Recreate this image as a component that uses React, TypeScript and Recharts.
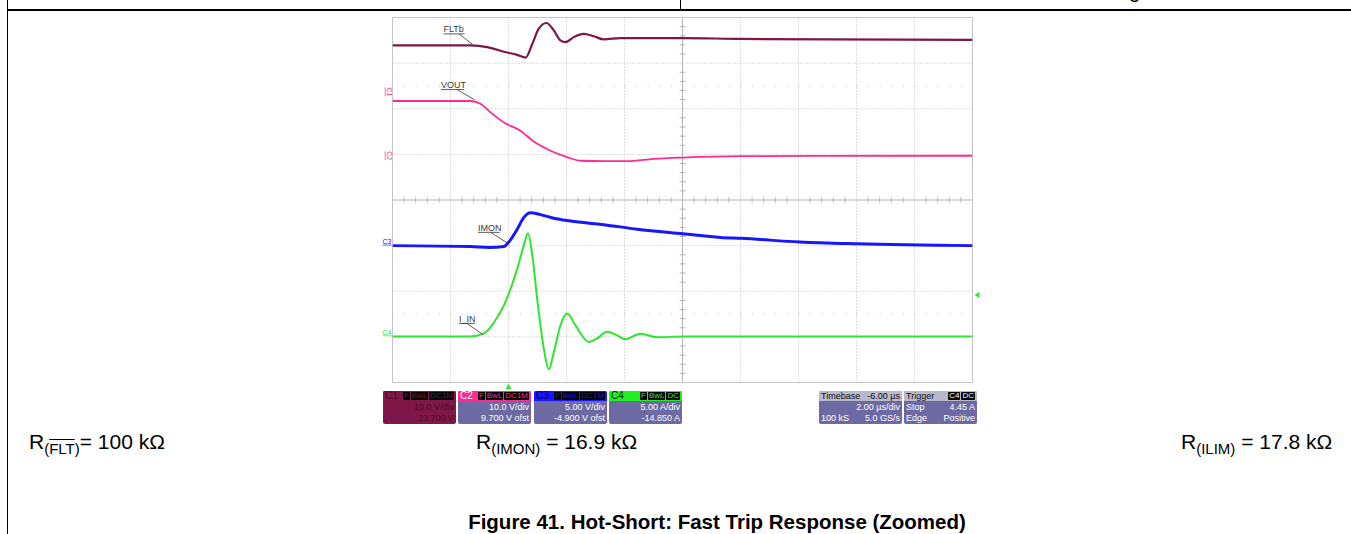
import React from "react";
import { LineChart, Line, XAxis, YAxis, ReferenceLine, ReferenceDot } from "recharts";

// time axis in µs, trigger at 0, 2 µs/div, 10 divs
const timeTicks = [-4, -2, 0, 2, 4, 6, 8, 10, 12, 14, 16];
// vertical screen divisions
const divTicks = [-4, -3, -2, -1, 0, 1, 2, 3, 4];

const channelNames = ["C1", "C2", "C3", "C4"];
const channelScale = [10, 10, 5, 5];
const channelOffset = [23.7, 9.7, -4.9, -14.85];
const channelScaleText = ["10.0 V/div", "10.0 V/div", "5.00 V/div", "5.00 A/div"];
const channelOffsetText = ["23.700 V", "9.700 V ofst", "-4.900 V ofst", "-14.850 A"];
const channelBadges = [["F", "BwL", "DC1M"], ["F", "BwL", "DC1M"], ["F", "BwL", "DC1M"], ["F", "BwL", "DC"]];
const triggerLevel = 4.45;

// FLTb (C1), volts
const fltbTime = [-4, -1.31, -0.73, -0.16, 0.3, 0.59, 0.82, 1.04, 1.31, 1.56, 1.79, 1.97, 2.25, 2.6, 2.94, 3.29, 3.86, 6.01, 8.03, 16];
const fltbVolts = [10.2, 10.2, 9.8, 8.8, 8.1, 7.5, 10.5, 13.8, 15.1, 13.5, 11.3, 10.9, 12.0, 12.7, 12.2, 11.5, 11.8, 11.8, 11.6, 11.4];

// VOUT (C2), volts
const voutTime = [-4, -1.31, -0.97, -0.62, -0.16, 0.41, 0.87, 1.45, 2.02, 2.48, 3.29, 4.09, 5.01, 6.01, 8.03, 16];
const voutVolts = [12.0, 12.0, 11.4, 9.5, 7.3, 5.5, 3.1, 1.1, -0.3, -1.1, -1.2, -1.2, -0.7, -0.4, -0.1, 0.0];

// IMON (C3), volts
const imonTime = [-4, -1.31, -0.66, -0.16, 0.01, 0.3, 0.53, 0.76, 1.1, 1.56, 2.14, 3.29, 4.44, 6.01, 7.31, 8.03, 10.05, 12.03, 16];
const imonVolts = [-0.1, -0.2, -0.3, -0.2, 0.3, 1.7, 3.0, 3.5, 3.3, 2.9, 2.6, 2.2, 1.7, 1.2, 0.8, 0.7, 0.3, 0.1, -0.1];

// I_IN (C4), amps
const iinTime = [-4, -1.31, -0.85, -0.51, -0.16, 0.07, 0.3, 0.53, 0.67, 0.82, 0.99, 1.22, 1.39, 1.56, 1.79, 2.02, 2.31, 2.77, 3.06, 3.4, 3.75, 4.03, 4.55, 5.13, 6.0, 16];
const iinAmps = [-0.1, -0.1, 0.2, 1.4, 3.3, 5.1, 7.3, 9.9, 11.2, 8.8, 4.0, -1.5, -3.7, -1.9, 1.1, 2.4, 1.1, -0.7, -0.3, 0.4, 0.0, -0.4, 0.2, -0.2, -0.1, -0.1];

const FONT = '"Liberation Sans", Arial, sans-serif';
const BOX_BODY = "#6d6aa3";

const toRows = (ts: number[], vs: number[]) => ts.map((t, i) => ({ t, v: vs[i] }));

// axis domain so that (v + offset) / scale lands on -4..4 divisions
const channelDomain = (i: number): [number, number] => [
  -4 * channelScale[i] - channelOffset[i],
  4 * channelScale[i] - channelOffset[i],
];

const traces = [
  { name: "FLTb", axis: "c0", data: toRows(fltbTime, fltbVolts), color: "#7e1747", width: 2.2 },
  { name: "VOUT", axis: "c1", data: toRows(voutTime, voutVolts), color: "#ff2a93", width: 1.8 },
  { name: "IMON", axis: "c2", data: toRows(imonTime, imonVolts), color: "#1616ff", width: 3 },
  { name: "I_IN", axis: "c3", data: toRows(iinTime, iinAmps), color: "#2ee62e", width: 2 },
];

// trace name tags: anchor on the trace, tag drawn up-left of it
const tags = [
  { text: "FLTb", axis: "c0", t: -1.24, v: 10.4, ux: -29, uw: 21, uy: -10.5, lx: -13.5 },
  { text: "VOUT", axis: "c1", t: -1.17, v: 12.25, ux: -33.5, uw: 23, uy: -10.3, lx: -17.4 },
  { text: "IMON", axis: "c2", t: -0.02, v: 0.15, ux: -30, uw: 22, uy: -11, lx: -17.3 },
  { text: "I_IN", axis: "c3", t: -0.87, v: 0.09, ux: -24.2, uw: 16, uy: -11.3, lx: -16.5 },
];

const markerColors = ["#ff2a93", "#ff2a93", "#1616ff", "#2ee62e"];

const minorTimes = timeTicks.slice(0, -1).flatMap((t) => [0.4, 0.8, 1.2, 1.6].map((s) => t + s));
const minorDivs = divTicks.slice(0, -1).flatMap((d) => [0.2, 0.4, 0.6, 0.8].map((s) => d + s));

function Scope() {
  return (
    <LineChart width={612} height={383} margin={{ top: 10.5, right: 11.5, bottom: 7.5, left: 20.5 }}>
      <XAxis type="number" dataKey="t" domain={[-4, 16]} allowDataOverflow hide />
      <YAxis yAxisId="div" type="number" domain={[-4, 4]} allowDataOverflow hide />
      {channelNames.map((c, i) => (
        <YAxis key={c} yAxisId={`c${i}`} type="number" domain={channelDomain(i)} allowDataOverflow hide />
      ))}

      {/* dotted grid */}
      {timeTicks.slice(1, -1).filter((t) => t !== 6).map((t) => (
        <ReferenceLine key={`gx${t}`} yAxisId="div" x={t} stroke="#bdbdbd" strokeDasharray="1 2" />
      ))}
      {divTicks.slice(1, -1).filter((d) => d !== 0).map((d) => (
        <ReferenceLine key={`gy${d}`} yAxisId="div" y={d} stroke="#bdbdbd" strokeDasharray="1 2" />
      ))}
      {[2.5, -2.5].map((d) => (
        <ReferenceLine key={`gs${d}`} yAxisId="div" y={d} stroke="#b8b8b8" strokeDasharray="1 10.6" />
      ))}
      {/* centre cross with ticks */}
      <ReferenceLine yAxisId="div" x={6} stroke="#b4b4b4" />
      <ReferenceLine yAxisId="div" y={0} stroke="#b4b4b4" />
      {minorTimes.map((t) => (
        <ReferenceLine key={`mx${t}`} yAxisId="div" stroke="#b4b4b4"
          segment={[{ x: t, y: -0.06 }, { x: t, y: 0.06 }]} />
      ))}
      {minorDivs.map((d) => (
        <ReferenceLine key={`my${d}`} yAxisId="div" stroke="#b4b4b4"
          segment={[{ x: 5.9, y: d }, { x: 6.1, y: d }]} />
      ))}
      {/* screen border */}
      <ReferenceLine yAxisId="div" x={-4} stroke="#c4c4c4" />
      <ReferenceLine yAxisId="div" x={16} stroke="#c4c4c4" />
      <ReferenceLine yAxisId="div" y={4} stroke="#c4c4c4" />
      <ReferenceLine yAxisId="div" y={-4} stroke="#c4c4c4" />

      {traces.map((s) => (
        <Line key={s.name} yAxisId={s.axis} data={s.data} dataKey="v" type="monotone"
          stroke={s.color} strokeWidth={s.width} dot={false} isAnimationActive={false} />
      ))}

      {/* ground markers on the left edge */}
      {channelNames.map((c, i) => (
        <ReferenceDot key={`gm${c}`} yAxisId={`c${i}`} x={-4} y={0} ifOverflow="visible"
          shape={(p: any) =>
            i < 2 ? (
              <text x={p.cx - 6} y={p.cy} fontSize={7} fontFamily={FONT} fill={markerColors[i]}
                textAnchor="middle" textDecoration="underline"
                transform={`rotate(90 ${p.cx - 6} ${p.cy})`}>{c}</text>
            ) : (
              <text x={p.cx - 1} y={p.cy - 1} fontSize={7} fontFamily={FONT} fill={markerColors[i]}
                textAnchor="end" textDecoration="underline">{c}</text>
            )
          } />
      ))}

      {/* trigger position and level */}
      <ReferenceDot yAxisId="div" x={0} y={-4} ifOverflow="visible"
        shape={(p: any) => (
          <polygon points={`${p.cx - 3},${p.cy + 7} ${p.cx + 3},${p.cy + 7} ${p.cx},${p.cy + 1}`} fill="#2ee62e" />
        )} />
      <ReferenceDot yAxisId="c3" x={16} y={triggerLevel} ifOverflow="visible"
        shape={(p: any) => (
          <polygon points={`${p.cx + 7},${p.cy - 3} ${p.cx + 7},${p.cy + 3} ${p.cx + 2},${p.cy}`} fill="#2ee62e" />
        )} />

      {tags.map((g) => (
        <ReferenceDot key={g.text} yAxisId={g.axis} x={g.t} y={g.v} ifOverflow="visible"
          shape={(p: any) => (
            <g>
              <text x={p.cx + g.ux} y={p.cy + g.uy - 1.5} fontSize={9} fontFamily={FONT} fill="#3a3a3a">{g.text}</text>
              <line x1={p.cx + g.ux} x2={p.cx + g.ux + g.uw} y1={p.cy + g.uy} y2={p.cy + g.uy} stroke="#333" strokeWidth={0.8} />
              <line x1={p.cx + g.lx} y1={p.cy + g.uy} x2={p.cx} y2={p.cy} stroke="#333" strokeWidth={0.8} />
            </g>
          )} />
      ))}
    </LineChart>
  );
}

function Badge({ text, color, bg = "#000" }: { text: string; color: string; bg?: string }) {
  return (
    <span style={{ background: bg, color, fontSize: 8, lineHeight: "8px", padding: "0 1px", marginLeft: 1, borderRadius: 1 }}>
      {text}
    </span>
  );
}

function ChannelBox({ i, left, head, headText, body, bodyText }: any) {
  return (
    <div style={{
      position: "absolute", left, top: 391, width: 73, height: 33, background: body, borderRadius: 2,
      overflow: "hidden", fontFamily: FONT, fontSize: 9, color: bodyText,
    }}>
      <div style={{ height: 10, background: head, display: "flex", alignItems: "center", padding: "0 2px", lineHeight: "10px" }}>
        <span style={{ flex: 1, color: headText, fontSize: 10 }}>{channelNames[i]}</span>
        {channelBadges[i].map((b, k) => <Badge key={k} text={b} color={head} />)}
      </div>
      <div style={{ textAlign: "right", padding: "1px 2px 0", lineHeight: "11px" }}>{channelScaleText[i]}</div>
      <div style={{ textAlign: "right", padding: "0 2px", lineHeight: "11px" }}>{channelOffsetText[i]}</div>
    </div>
  );
}

function InfoBox({ left, width, title, badges, rows }: any) {
  return (
    <div style={{
      position: "absolute", left, top: 391, width, height: 33, background: BOX_BODY, borderRadius: 2,
      overflow: "hidden", fontFamily: FONT, fontSize: 9, color: "#fff",
    }}>
      <div style={{ height: 10, background: "#b9b8cc", display: "flex", alignItems: "center", padding: "0 2px", lineHeight: "10px", color: "#111" }}>
        <span style={{ flex: 1 }}>{title[0]}</span>
        {title[1] ? <span>{title[1]}</span> : null}
        {(badges || []).map((b: string, k: number) => <Badge key={k} text={b} color="#fff" />)}
      </div>
      {rows.map((r: string[], k: number) => (
        <div key={k} style={{ display: "flex", padding: k === 0 ? "1px 2px 0" : "0 2px", lineHeight: "11px" }}>
          <span style={{ flex: 1 }}>{r[0]}</span>
          <span>{r[1]}</span>
        </div>
      ))}
    </div>
  );
}

const rText = {
  position: "absolute" as const, top: 430, fontFamily: FONT, fontSize: 21, lineHeight: "24px", whiteSpace: "nowrap" as const,
};
const sub = { fontSize: 15, position: "relative" as const, top: 5 };

export default function App() {
  return (
    <div style={{ position: "absolute", left: 0, top: 0, width: 1351, height: 534, background: "#fff", overflow: "hidden" }}>
      {/* page frame */}
      <div style={{ position: "absolute", left: 7, top: 0, width: 1, height: 534, background: "#000" }} />
      <div style={{ position: "absolute", left: 7, top: 9, width: 1344, height: 2, background: "#000" }} />
      <div style={{ position: "absolute", left: 680, top: 0, width: 1, height: 10, background: "#000" }} />
      <div style={{ position: "absolute", left: 1129, top: -20, fontFamily: FONT, fontSize: 20, lineHeight: "23px" }}>g</div>

      <div style={{ position: "absolute", left: 372, top: 7 }}>
        <Scope />
      </div>

      <ChannelBox i={0} left={383} head="#7e1747" headText="#4e0b2a" body="#7e1747" bodyText="#4e0b2a" />
      <ChannelBox i={1} left={458} head="#ff2a93" headText="#fff" body={BOX_BODY} bodyText="#fff" />
      <ChannelBox i={2} left={534} head="#1616ff" headText="#000060" body={BOX_BODY} bodyText="#fff" />
      <ChannelBox i={3} left={609} head="#22ee22" headText="#003300" body={BOX_BODY} bodyText="#fff" />
      <InfoBox left={819} width={83} title={["Timebase", "-6.00 µs"]} rows={[["", "2.00 µs/div"], ["100 kS", "5.0 GS/s"]]} />
      <InfoBox left={904} width={73} title={["Trigger"]} badges={["C4", "DC"]} rows={[["Stop", "4.45 A"], ["Edge", "Positive"]]} />

      <div style={{ ...rText, left: 29 }}>
        R<span style={sub}>(<span style={{ textDecoration: "overline" }}>FLT</span>)</span>= 100 kΩ
      </div>
      <div style={{ ...rText, left: 476 }}>
        R<span style={sub}>(IMON)</span> = 16.9 kΩ
      </div>
      <div style={{ ...rText, left: 1181 }}>
        R<span style={sub}>(ILIM)</span> = 17.8 kΩ
      </div>
      <div style={{ position: "absolute", left: 217, top: 510, width: 1000, textAlign: "center", fontFamily: FONT, fontSize: 20.5, fontWeight: "bold", lineHeight: "23px" }}>
        Figure 41. Hot-Short: Fast Trip Response (Zoomed)
      </div>
    </div>
  );
}
